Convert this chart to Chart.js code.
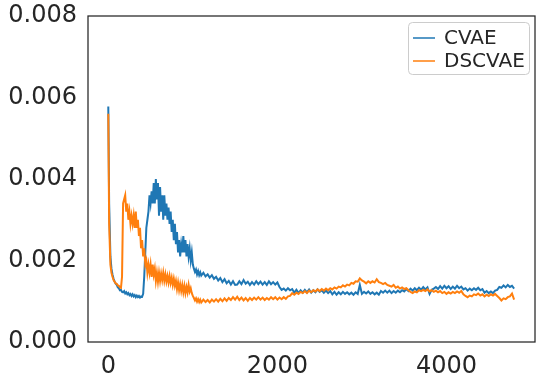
<!DOCTYPE html>
<html>
<head>
<meta charset="utf-8">
<script src="https://cdn.jsdelivr.net/npm/chart.js@4/dist/chart.umd.min.js"></script>
<style>
  html, body { margin: 0; padding: 0; background: #fff; }
  canvas { display: block; }
</style>
</head>
<body>
<canvas id="loss-canvas" width="541" height="383"></canvas>
<script>
// training step of each sample (denser where the curves are noisy)
const steps = [
  0, 10,
  25, 37.5, 50, 62.5, 75, 87.5, 100, 112.5, 125, 137.5, 150, 162.5, 175, 187.5, 200, 212.5, 225, 237.5, 250, 262.5,
  275, 287.5, 300, 312.5, 325, 337.5, 350, 362.5, 375, 387.5, 400, 412.5, 425, 437.5, 450, 462.5, 475, 487.5, 500,
  512.5, 525, 537.5, 550, 562.5, 575, 587.5, 600, 612.5, 625, 637.5, 650, 662.5, 675, 687.5, 700, 712.5, 725, 737.5, 750,
  762.5, 775, 787.5, 800, 812.5, 825, 837.5, 850, 862.5, 875, 887.5, 900, 912.5, 925, 937.5, 950, 962.5, 975, 987.5, 1000,
  1012.5, 1025, 1037.5, 1050, 1062.5, 1075, 1087.5, 1100,
  1125, 1150, 1175, 1200, 1225, 1250, 1275, 1300, 1325, 1350, 1375, 1400, 1425, 1450, 1475, 1500,
  1525, 1550, 1575, 1600, 1625, 1650, 1675, 1700, 1725, 1750, 1775, 1800, 1825, 1850, 1875, 1900, 1925, 1950, 1975, 2000,
  2025, 2050, 2075, 2100, 2125, 2150, 2175, 2200, 2225, 2250, 2275, 2300, 2325, 2350, 2375, 2400, 2425, 2450, 2475, 2500,
  2525, 2550, 2575, 2600, 2625, 2650, 2675, 2700, 2725, 2750, 2775, 2800, 2825, 2850, 2875, 2900, 2925, 2950, 2975, 3000,
  3025, 3050, 3075, 3100, 3125, 3150, 3175, 3200, 3225, 3250, 3275, 3300, 3325, 3350, 3375, 3400, 3425, 3450, 3475, 3500,
  3525, 3550, 3575, 3600, 3625, 3650, 3675, 3700, 3725, 3750, 3775, 3800, 3825, 3850, 3875, 3900, 3925, 3950, 3975, 4000,
  4025, 4050, 4075, 4100, 4125, 4150, 4175, 4200, 4225, 4250, 4275, 4300, 4325, 4350, 4375, 4400, 4425, 4450, 4475, 4500,
  4525, 4550, 4575, 4600, 4625, 4650, 4675, 4700, 4725, 4750, 4775, 4800
];

const cvae = [
  0.00578, 0.0034,
  0.0021, 0.0018, 0.00165, 0.00155, 0.00148, 0.00143, 0.0014, 0.00134, 0.00132, 0.00127, 0.00128, 0.00123, 0.00122, 0.00125, 0.00119, 0.00122, 0.00117, 0.0012, 0.00115, 0.00118,
  0.00113, 0.00117, 0.00112, 0.00115, 0.0011, 0.00114, 0.0011, 0.00113, 0.00109, 0.00112, 0.00111, 0.00118, 0.0016, 0.0022, 0.0028, 0.003, 0.0032, 0.0036, 0.0034,
  0.0037, 0.0034, 0.0039, 0.0034, 0.004, 0.0035, 0.0039, 0.0031, 0.0038, 0.0032, 0.0036, 0.003, 0.0036, 0.0031, 0.0034, 0.003, 0.0033, 0.0029, 0.0032, 0.0027,
  0.003, 0.0025, 0.0029, 0.0024, 0.0027, 0.0022, 0.0025, 0.0021, 0.0024, 0.0022, 0.0026, 0.0022, 0.0025, 0.0021, 0.0024, 0.0021, 0.0023, 0.002, 0.0022, 0.0019,
  0.0018, 0.00172, 0.00178, 0.00166, 0.00174, 0.00164, 0.00171, 0.00163,
  0.0017, 0.00161, 0.00166, 0.00158, 0.00164, 0.00155, 0.0016, 0.00151, 0.00157, 0.00147, 0.00154, 0.00144, 0.0015, 0.00141, 0.00149, 0.0014,
  0.00141, 0.00149, 0.00142, 0.00152, 0.00143, 0.00148, 0.0014, 0.00147, 0.00141, 0.00149, 0.00142, 0.00148, 0.00141, 0.00147, 0.0014, 0.00149, 0.00142, 0.00147, 0.00141, 0.00146,
  0.00135, 0.00128, 0.00131, 0.00126, 0.00132, 0.00127, 0.0013, 0.00121, 0.00128, 0.0012, 0.00127, 0.00121, 0.00128, 0.00122, 0.00129, 0.00121, 0.00127, 0.00122, 0.00129, 0.00123,
  0.00127, 0.00121, 0.00126, 0.0012, 0.00125, 0.00117, 0.00123, 0.00116, 0.00122, 0.00117, 0.00123, 0.00118, 0.00122, 0.00117, 0.00121, 0.00116, 0.00122, 0.00118, 0.0014, 0.00118,
  0.00123, 0.00119, 0.00124, 0.00118, 0.00122, 0.00117, 0.00121, 0.00116, 0.00125, 0.00121, 0.00126, 0.00121, 0.00126, 0.0012, 0.00125, 0.00121, 0.00126, 0.00122, 0.00127, 0.00124,
  0.0013, 0.00125, 0.00131, 0.00126, 0.00132, 0.00127, 0.00133, 0.00128, 0.00135, 0.00129, 0.00134, 0.00118, 0.00128, 0.00131, 0.00135, 0.0013, 0.00137, 0.00131, 0.00138, 0.00132,
  0.00137, 0.0013, 0.00136, 0.00131, 0.00138, 0.00132, 0.00136, 0.00129, 0.00132, 0.00126, 0.00131, 0.00127, 0.00132, 0.00128, 0.00133, 0.00127, 0.0013, 0.00121, 0.00125, 0.0012,
  0.00124, 0.0012, 0.00126, 0.00128, 0.00135, 0.00133, 0.00139, 0.00134, 0.0014, 0.00135, 0.00138, 0.00131
];

const dscvae = [
  0.0056, 0.0029,
  0.0019, 0.0017, 0.0016, 0.00152, 0.00148, 0.00144, 0.00143, 0.00139, 0.00138, 0.00134, 0.00133, 0.0016, 0.0034, 0.0035, 0.0036, 0.0032, 0.0034, 0.003, 0.0032, 0.0029,
  0.0031, 0.0029, 0.0031, 0.0028, 0.0032, 0.0028, 0.003, 0.0026, 0.0028, 0.0023, 0.0025, 0.0021, 0.0023, 0.0019, 0.002, 0.0017, 0.0019, 0.0017, 0.0019,
  0.0016, 0.0019, 0.00165, 0.0018, 0.0015, 0.0017, 0.00148, 0.0017, 0.0015, 0.00168, 0.00152, 0.0017, 0.0015, 0.00166, 0.00148, 0.00162, 0.00146, 0.00162, 0.00145, 0.00158,
  0.0014, 0.00155, 0.00138, 0.0015, 0.0013, 0.00146, 0.00127, 0.00142, 0.00125, 0.0014, 0.00122, 0.00138, 0.0012, 0.00135, 0.00122, 0.0014, 0.00124, 0.00132, 0.0012, 0.00113,
  0.00108, 0.00102, 0.00107, 0.00099, 0.00105, 0.00098, 0.00104, 0.00097,
  0.00104, 0.00098, 0.00103, 0.00097, 0.00104, 0.00099, 0.00105, 0.00099, 0.00106, 0.001, 0.00107, 0.00101, 0.00108, 0.00103, 0.0011, 0.00104,
  0.00111, 0.00103, 0.00109, 0.00102, 0.00108, 0.00101, 0.00108, 0.00103, 0.00109, 0.00104, 0.0011, 0.00104, 0.00109, 0.00103, 0.00108, 0.00104, 0.0011, 0.00105, 0.0011, 0.00104,
  0.00109, 0.00105, 0.0011, 0.00106, 0.00112, 0.00113, 0.0012, 0.00116, 0.00121, 0.00118, 0.00123, 0.0012, 0.00125, 0.0012, 0.00126, 0.00122, 0.00127, 0.00124, 0.00129, 0.00125,
  0.0013, 0.00126, 0.00131, 0.00127, 0.00132, 0.00129, 0.00134, 0.00131, 0.00136, 0.00134, 0.00139, 0.00136, 0.00141, 0.00139, 0.00145, 0.00143, 0.00149, 0.00148, 0.00156, 0.00151,
  0.00148, 0.00144, 0.00149, 0.00145, 0.00149, 0.00146, 0.00154, 0.00147, 0.00145, 0.00142, 0.00145, 0.0014, 0.00138, 0.00136, 0.0014, 0.00133, 0.00136, 0.00131, 0.00134, 0.0013,
  0.00132, 0.00127, 0.00123, 0.0012, 0.00124, 0.00122, 0.00127, 0.00125, 0.00128, 0.00125, 0.00129, 0.00124, 0.00127, 0.00123, 0.00126, 0.00122, 0.00125, 0.0012, 0.00123, 0.00118,
  0.00122, 0.00119, 0.00123, 0.0012, 0.00124, 0.00121, 0.00125, 0.00117, 0.00113, 0.0011, 0.00114, 0.00112, 0.00117, 0.00115, 0.00119, 0.00114, 0.00117, 0.00112, 0.00116, 0.00113,
  0.00117, 0.00114, 0.00118, 0.00113, 0.00108, 0.00102, 0.00107, 0.00105, 0.0011, 0.00112, 0.00119, 0.00104
];

const seriesNames = ['CVAE', 'DSCVAE'];
const seriesColors = ['#1f77b4', '#ff7f0e'];
const xTicks = [0, 2000, 4000];
const yTicks = [0, 0.002, 0.004, 0.006, 0.008];

const FONT = "'DejaVu Sans', 'Liberation Sans', sans-serif";
const TEXT = '#262626';

function toPoints(ys) {
    return steps.map((s, i) => ({ x: s, y: ys[i] }));
}

// box round the plot + legend in the top right corner
const frameAndLegend = {
    id: 'frameAndLegend',
    afterDraw(chart) {
        let ctx = chart.ctx;
        let a = chart.chartArea;
        ctx.save();
        ctx.strokeStyle = TEXT;
        ctx.lineWidth = 1.25;
        ctx.strokeRect(a.left, a.top, a.right - a.left, a.bottom - a.top);

        let bx = 408, by = 22, bw = 121, bh = 52;
        ctx.beginPath();
        ctx.roundRect(bx + 0.5, by + 0.5, bw, bh, 4);
        ctx.fillStyle = 'rgba(255,255,255,0.8)';
        ctx.fill();
        ctx.strokeStyle = '#cccccc';
        ctx.lineWidth = 1;
        ctx.stroke();

        ctx.font = '20px ' + FONT;
        ctx.textBaseline = 'middle';
        ctx.textAlign = 'left';
        seriesNames.forEach((name, i) => {
            let y = 38 + i * 23;
            ctx.strokeStyle = seriesColors[i];
            ctx.lineWidth = 1.5;
            ctx.beginPath();
            ctx.moveTo(413, y);
            ctx.lineTo(435, y);
            ctx.stroke();
            ctx.fillStyle = TEXT;
            ctx.fillText(name, 444, y + 1);
        });
        ctx.restore();
    }
};

let ctx = document.getElementById('loss-canvas').getContext('2d');
let chart = new Chart(ctx, {
    type: 'line',
    data: {
        datasets: [{
            label: seriesNames[0],
            data: toPoints(cvae),
            borderColor: seriesColors[0],
            borderWidth: 2,
            pointRadius: 0,
            order: 1
        }, {
            label: seriesNames[1],
            data: toPoints(dscvae),
            borderColor: seriesColors[1],
            borderWidth: 2,
            pointRadius: 0,
            order: 0
        }]
    },
    options: {
        responsive: false,
        animation: false,
        layout: { padding: { top: 16, right: 6, left: 0, bottom: 0 } },
        plugins: {
            legend: { display: false },
            tooltip: { enabled: false }
        },
        scales: {
            x: {
                type: 'linear',
                min: -240,
                max: 5047,
                grid: { display: false, drawTicks: false },
                border: { display: false },
                afterBuildTicks: (s) => { s.ticks = xTicks.map(v => ({ value: v })); },
                afterFit: (s) => { s.height = 41; s.paddingLeft = 0; s.paddingRight = 0; },
                ticks: {
                    padding: 10,
                    color: TEXT,
                    font: { family: FONT, size: 24 },
                    maxRotation: 0,
                    callback: (v) => String(v)
                }
            },
            y: {
                min: 0,
                max: 0.008,
                grid: { display: false, drawTicks: false },
                border: { display: false },
                afterBuildTicks: (s) => { s.ticks = yTicks.map(v => ({ value: v })); },
                afterFit: (s) => { s.width = 88; s.paddingTop = 0; s.paddingBottom = 0; },
                ticks: {
                    padding: 11,
                    color: TEXT,
                    font: { family: FONT, size: 24 },
                    callback: (v) => v.toFixed(3)
                }
            }
        }
    },
    plugins: [frameAndLegend]
});
</script>
</body>
</html>
